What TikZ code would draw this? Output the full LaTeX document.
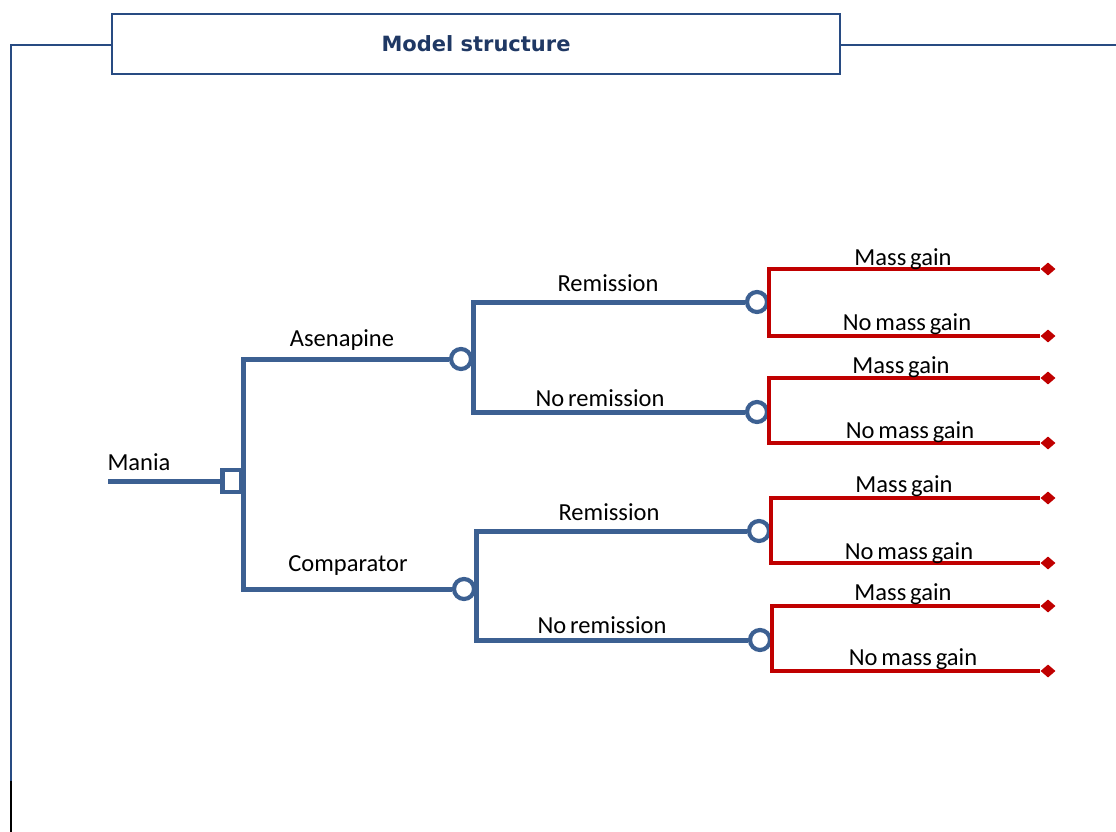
\documentclass[tikz,border=0pt]{standalone}
\usepackage{fontspec}
\setmainfont{Carlito}[WordSpace=0.7]
\newfontfamily\titlefont{DejaVu Sans}
\usetikzlibrary{shapes.geometric}
\definecolor{tb}{RGB}{60,96,146}
\definecolor{tr}{RGB}{192,0,0}
\definecolor{framec}{RGB}{40,75,130}
\definecolor{ttl}{RGB}{31,56,100}
\begin{document}
\begin{tikzpicture}[x=1pt,y=-1pt,
  blueline/.style={draw=tb,line width=5pt},
  redline/.style={draw=tr,line width=4pt},
  chance/.style={circle,draw=tb,line width=4.2pt,fill=white,minimum size=20pt,inner sep=0pt},
  decision/.style={rectangle,draw=tb,line width=4.5pt,fill=white,minimum width=19pt,minimum height=22pt,inner sep=0pt},
  term/.style={diamond,fill=tr,minimum width=15pt,minimum height=13pt,inner sep=0pt},
  lbl/.style={anchor=base,font=\fontsize{24.5}{27}\selectfont,inner sep=0pt},
  framel/.style={draw=framec,line width=1.6pt}]
\useasboundingbox (0,0) rectangle (1116,832);
% frame and title
\node (title) [draw=framec,line width=1.6pt,minimum width=728pt,minimum height=60pt,inner sep=0pt,
  font=\titlefont\bfseries\fontsize{21}{24}\selectfont,text=ttl] at (476,44) {Model structure};
\coordinate (fl) at (11,45);
\coordinate (fb) at (11,781);
\coordinate (fe) at (11,832);
\coordinate (fr) at (1116,45);
\draw[framel] (title.west |- fl) -- (fl) -- (fb);
\draw[draw=black,line width=1.6pt] (fb) -- (fe);
\draw[framel] (title.east |- fr) -- (fr);
% nodes
\coordinate (m0) at (108,481);
\node (dec) [decision] at (232,481) {};
\node (cA) [chance] at (461,359) {};
\node (cC) [chance] at (464,589) {};
\node (r1) [chance] at (757,302) {};
\node (r2) [chance] at (757,412) {};
\node (r3) [chance] at (759,531) {};
\node (r4) [chance] at (760,640) {};
\node (d1) [term] at (1048,269) {};
\node (d2) [term] at (1048,336) {};
\node (d3) [term] at (1048,378) {};
\node (d4) [term] at (1048,443) {};
\node (d5) [term] at (1048,498) {};
\node (d6) [term] at (1048,563) {};
\node (d7) [term] at (1048,606) {};
\node (d8) [term] at (1048,671) {};
% connectors
\draw[blueline] (m0) -- (dec.west);
\draw[blueline] (dec.east) |- (cA.west);
\draw[blueline] (dec.east) |- (cC.west);
\draw[blueline] (cA.east) |- (r1.west);
\draw[blueline] (cA.east) |- (r2.west);
\draw[blueline] (cC.east) |- (r3.west);
\draw[blueline] (cC.east) |- (r4.west);
\draw[redline] (r1.east) |- (d1.west);
\draw[redline] (r1.east) |- (d2.west);
\draw[redline] (r2.east) |- (d3.west);
\draw[redline] (r2.east) |- (d4.west);
\draw[redline] (r3.east) |- (d5.west);
\draw[redline] (r3.east) |- (d6.west);
\draw[redline] (r4.east) |- (d7.west);
\draw[redline] (r4.east) |- (d8.west);
% labels
\node (lm) [lbl] at (139,470) {Mania};
\node (la) [lbl] at (342,346) {Asenapine};
\node (lc) [lbl] at (348,571) {Comparator};
\node (l1) [lbl] at (608,291) {Remission};
\node (l2) [lbl] at (600,406) {No remission};
\node (l3) [lbl] at (609,520) {Remission};
\node (l4) [lbl] at (602,633) {No remission};
\node (g1) [lbl] at (903,265) {Mass gain};
\node (g2) [lbl] at (907,330) {No mass gain};
\node (g3) [lbl] at (901,373) {Mass gain};
\node (g4) [lbl] at (910,438) {No mass gain};
\node (g5) [lbl] at (904,492) {Mass gain};
\node (g6) [lbl] at (909,559) {No mass gain};
\node (g7) [lbl] at (903,600) {Mass gain};
\node (g8) [lbl] at (913,665) {No mass gain};
\end{tikzpicture}
\end{document}
